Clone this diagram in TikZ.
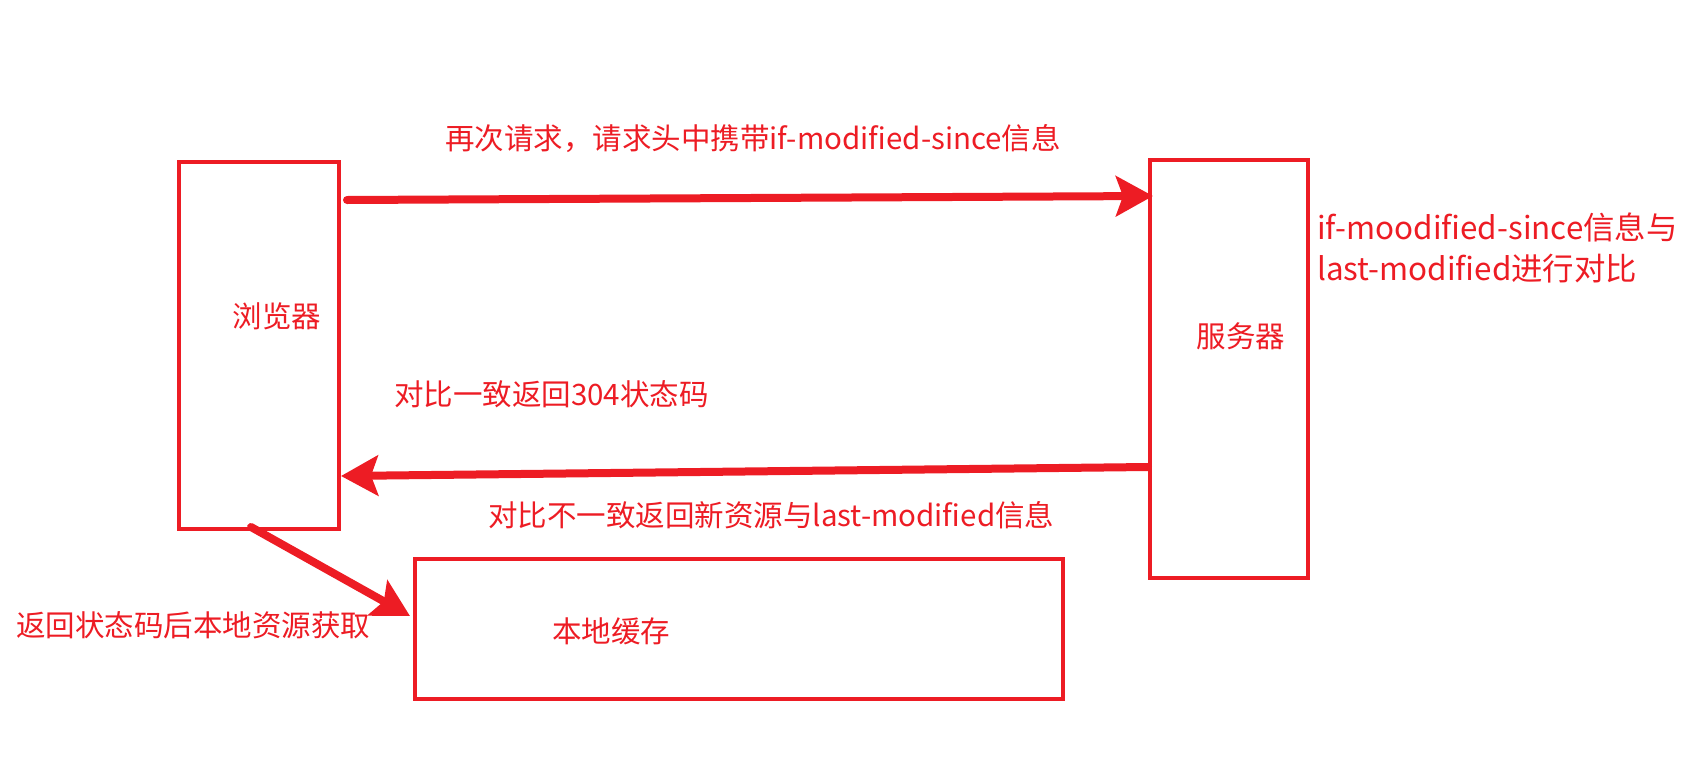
\documentclass[tikz,border=0pt]{standalone}
\usepackage{fontspec}
\setmainfont{Noto Sans CJK SC}
\usetikzlibrary{arrows.meta}
\definecolor{pen}{HTML}{ED1C24}
\begin{document}
\begin{tikzpicture}[x=1pt, y=-1pt,
  box/.style={draw=pen, line width=4pt, rectangle, inner sep=0pt},
  txt/.style={text=pen, font=\fontsize{29.5}{40}\selectfont, inner sep=0pt},
  flow/.style={draw=pen, line width=8pt, line cap=round,
               -{Stealth[length=37pt, width=40pt, inset=7pt]}},
]
\useasboundingbox (0,0) rectangle (1682,774);
% boxes
\node[box, minimum width=160pt, minimum height=367pt] (browser) at (259,345.5) {};
\node[box, minimum width=158pt, minimum height=418pt] (server) at (1229,369) {};
\node[box, minimum width=648pt, minimum height=140pt] (cache) at (739,629) {};
\node[txt] (browserlbl) at (277,316) {浏览器};
\node[txt] (serverlbl) at (1241,336) {服务器};
\node[txt] (cachelbl) at (611,631) {本地缓存};
% arrows
\draw[flow] ([xshift=6pt,yshift=-40pt]browser.north east)
  -- ([xshift=5pt,yshift=-38pt]server.north west);
\draw[flow] ([yshift=-309pt]server.north west)
  -- ([yshift=-316pt]browser.north east);
\draw[flow] ([xshift=74pt,yshift=4pt]browser.south west)
  -- ([xshift=-3pt,yshift=-59pt]cache.north west);
% labels
\node[txt, anchor=west] (reqlbl) at (445,139) {再次请求，请求头中携带if-modified-since信息};
\node[txt, anchor=west] (samelbl) at (394,394) {对比一致返回304状态码};
\node[txt, anchor=west] (difflbl) at (488,515) {对比不一致返回新资源与last-modified信息};
\node[txt, anchor=west] (locallbl) at (16,625) {返回状态码后本地资源获取};
\node[txt, anchor=west, align=left, font=\fontsize{31.4}{41}\selectfont] (cmplbl) at (1317,248)
  {if-moodified-since信息与\\last-modified进行对比};
\end{tikzpicture}
\end{document}
